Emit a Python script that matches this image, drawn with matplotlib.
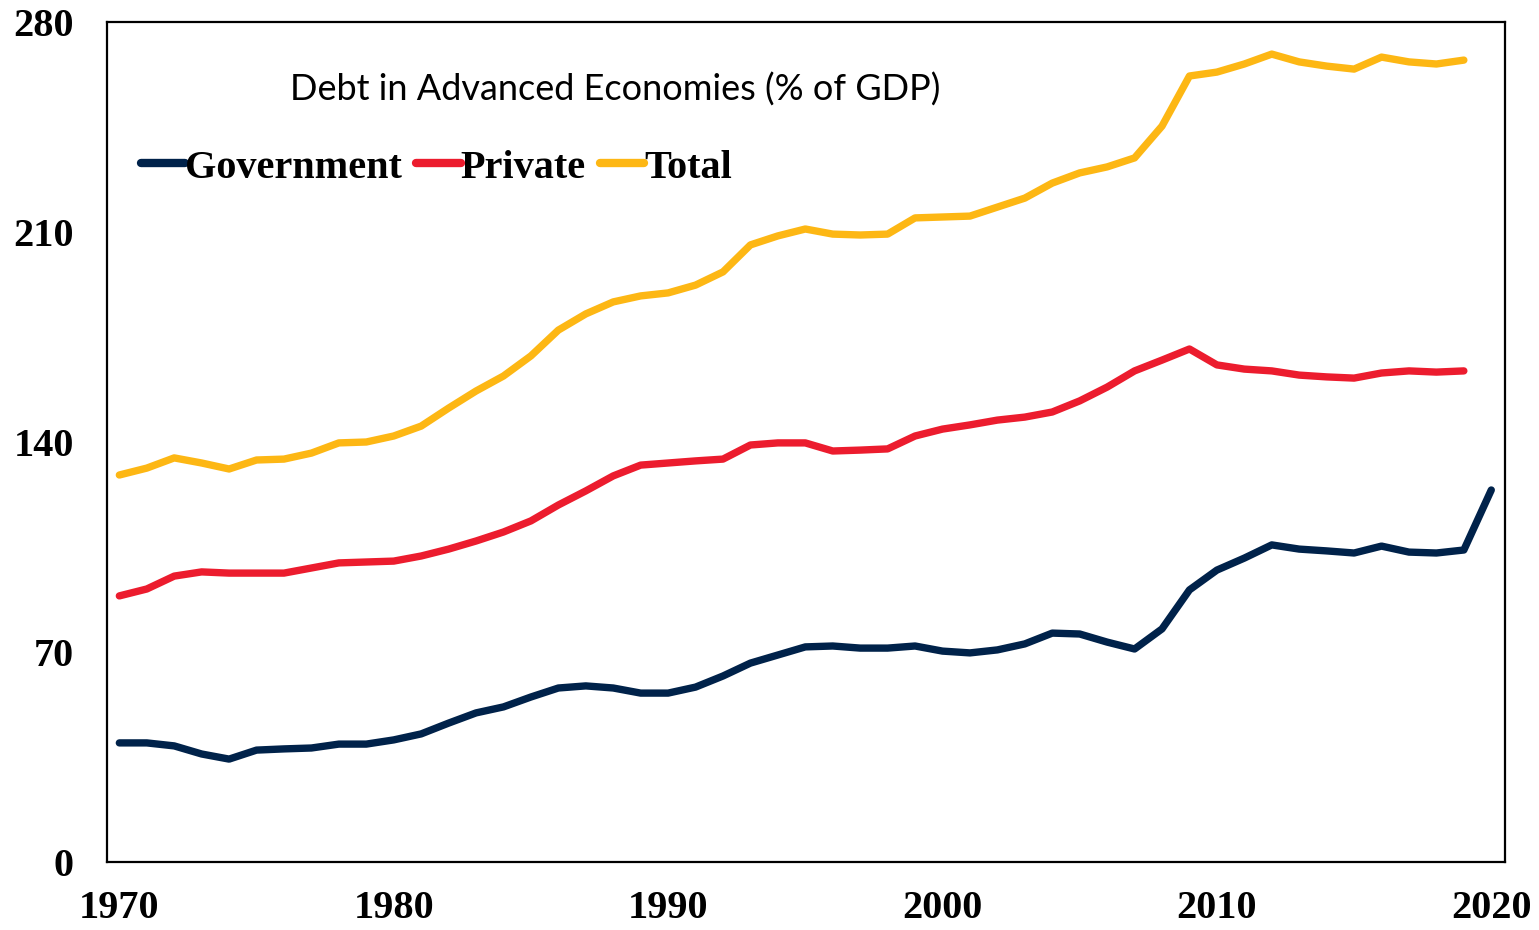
import matplotlib
matplotlib.use("Agg")
import matplotlib.pyplot as plt

years = list(range(1970, 2021))
government = [39.7, 39.7, 38.7, 36.0, 34.3, 37.3, 37.7, 38.0, 39.3, 39.3,
              40.7, 42.7, 46.3, 49.7, 51.7, 55.0, 58.0, 58.7, 58.0, 56.3,
              56.3, 58.3, 62.0, 66.3, 69.0, 71.7, 72.0, 71.3, 71.3, 72.0,
              70.3, 69.7, 70.7, 72.7, 76.3, 76.0, 73.3, 71.0, 77.7, 90.7,
              97.3, 101.3, 105.7, 104.3, 103.7, 103.0, 105.3, 103.3, 103.0, 104.0,
              124.0]
private = [88.7, 91.0, 95.3, 96.7, 96.3, 96.3, 96.3, 98.0, 99.7, 100.0,
           100.3, 102.0, 104.3, 107.0, 110.0, 113.7, 119.0, 123.7, 128.7, 132.3,
           133.0, 133.7, 134.3, 139.0, 139.7, 139.7, 137.0, 137.3, 137.7, 142.0,
           144.3, 145.7, 147.3, 148.3, 150.0, 153.7, 158.3, 163.7, 167.3, 171.0,
           165.7, 164.3, 163.7, 162.3, 161.7, 161.3, 163.0, 163.7, 163.3, 163.7]
total = [129.0, 131.3, 134.7, 133.0, 131.0, 134.0, 134.3, 136.3, 139.7, 140.0,
         142.0, 145.3, 151.3, 157.0, 162.0, 168.7, 177.3, 182.7, 186.7, 188.7,
         189.7, 192.3, 196.7, 205.7, 208.7, 211.0, 209.3, 209.0, 209.3, 214.7,
         215.0, 215.3, 218.3, 221.3, 226.3, 229.7, 231.7, 234.7, 245.3, 262.0,
         263.3, 266.0, 269.3, 266.7, 265.3, 264.3, 268.3, 266.7, 266.0, 267.3]
y_ticks = [0, 70, 140, 210, 280]
x_ticks = [1970, 1980, 1990, 2000, 2010, 2020]
title = "Debt in Advanced Economies (% of GDP)"
labels = ["Government", "Private", "Total"]
colors = ["#00224A", "#EC1C2E", "#FDB714"]

W, H = 1539, 930
fig = plt.figure(figsize=(W / 100, H / 100), dpi=100)
ax = fig.add_axes([107 / W, 1 - 862 / H, (1505 - 107) / W, (862 - 22) / H])

series = [government, private, total]
for vals, lab, c in zip(series, labels, colors):
    ax.plot(years[:len(vals)], vals, color=c, lw=5.3, label=lab,
            solid_capstyle="round", solid_joinstyle="round")

ax.set_xlim(1969.55, 2020.5)
ax.set_ylim(0, 280)
ax.set_xticks(x_ticks)
ax.set_yticks(y_ticks)
serif = {"family": "Liberation Serif", "weight": "bold", "size": 29}
ax.set_xticklabels([str(t) for t in x_ticks], fontdict=serif)
ax.set_yticklabels([str(t) for t in y_ticks], fontdict=serif)
ax.tick_params(axis="both", length=0)
ax.tick_params(axis="y", pad=24)
ax.tick_params(axis="x", pad=20)
for s in ax.spines.values():
    s.set_linewidth(1.6)
    s.set_color("black")

fig.text(615 / W, 1 - 90 / H, title, ha="center", va="center",
         fontsize=26, family="Lato", color="black")

leg = ax.legend(loc="center left", bbox_to_anchor=(141 / W, 1 - 168 / H),
                bbox_transform=fig.transFigure, ncol=3, frameon=False,
                handlelength=1.1, handletextpad=0.0, columnspacing=0.35,
                borderpad=0, borderaxespad=0,
                prop={"family": "Liberation Serif", "weight": "bold", "size": 29})
for h in leg.legend_handles:
    h.set_linewidth(6)
    h.set_solid_capstyle("round")

fig.savefig("out.png", dpi=100)
